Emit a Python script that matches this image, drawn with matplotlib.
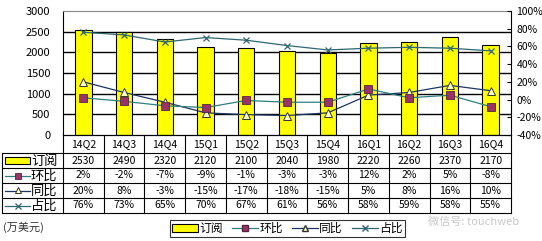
import matplotlib
matplotlib.use("Agg")
import matplotlib.pyplot as plt
import matplotlib.transforms as mtrans
from matplotlib.lines import Line2D
from matplotlib.patches import Rectangle
from matplotlib.ticker import FuncFormatter

plt.rcParams['font.family'] = ['Noto Sans CJK SC', 'DejaVu Sans']

# data
quarters = ['14Q2', '14Q3', '14Q4', '15Q1', '15Q2', '15Q3', '15Q4',
            '16Q1', '16Q2', '16Q3', '16Q4']
subs = [2530, 2490, 2320, 2120, 2100, 2040, 1980, 2220, 2260, 2370, 2170]   # 订阅
qoq = [2, -2, -7, -9, -1, -3, -3, 12, 2, 5, -8]                            # 环比 %
yoy = [20, 8, -3, -15, -17, -18, -15, 5, 8, 16, 10]                        # 同比 %
share = [76, 73, 65, 70, 67, 61, 56, 58, 59, 58, 55]                       # 占比 %

bar_col = '#FFFF00'
qoq_col = '#2F7F7F'
yoy_col = '#1F3560'
share_col = '#2F6670'
sq_col = '#993366'

W, H = 542, 241
fig = plt.figure(figsize=(W / 100, H / 100), dpi=100)

# plot area in pixels
L, R, T, B = 63, 511, 11, 135
ax = fig.add_axes([L / W, 1 - B / H, (R - L) / W, (B - T) / H])
x = list(range(len(quarters)))

ax.bar(x, subs, width=0.4, color=bar_col, edgecolor='black', linewidth=0.8, zorder=2)
ax.set_xlim(-0.5, len(quarters) - 0.5)
ax.set_ylim(0, 3000)
ax.set_yticks(range(0, 3001, 500))
for v in range(500, 3000, 500):
    ax.axhline(v, color='black', lw=1.0, zorder=1)
ax.tick_params(axis='y', length=0, labelsize=8, pad=9)
ax.set_xticks([])
ax.spines['top'].set_color('#888888')
ax.spines['right'].set_visible(False)

ax2 = ax.twinx()
ax2.set_ylim(-40, 100)
ax2.set_yticks(range(-40, 101, 20))
ax2.yaxis.set_major_formatter(FuncFormatter(lambda v, p: '%d%%' % v))
ax2.tick_params(axis='y', direction='in', length=3, labelsize=7.5, pad=4)
ax2.spines['top'].set_visible(False)
ax2.spines['left'].set_visible(False)

ax2.plot(x, share, color=share_col, lw=0.9, marker='x', ms=4, mew=0.9,
         mec=share_col, zorder=3)
ax2.plot(x, yoy, color=yoy_col, lw=0.9, marker='^', ms=5.5, mfc='#FFFFCC',
         mec='#333333', mew=0.7, zorder=3)
ax2.plot(x, qoq, color=qoq_col, lw=0.9, marker='s', ms=6, mfc=sq_col,
         mec='#552244', mew=0.6, zorder=4)

# data table below the plot
ov = fig.add_axes([0, 0, 1, 1], facecolor='none')
ov.set_xlim(0, W)
ov.set_ylim(H, 0)
ov.axis('off')
bt = mtrans.blended_transform_factory(ax.transData, ov.transData)

rows = [153, 168, 183, 198, 213]
for y in rows:
    ov.plot([2, R], [y, y], color='black', lw=0.8)
ov.plot([2, 2], [rows[0], rows[-1]], color='black', lw=0.8)
for i in range(len(quarters) + 1):
    ov.plot([i - 0.5, i - 0.5], [B, rows[-1]], color='black', lw=0.8, transform=bt)

for i, q in enumerate(quarters):
    ov.text(i, 144, q, ha='center', va='center', fontsize=7.5, transform=bt)
    vals = [str(subs[i]), '%d%%' % qoq[i], '%d%%' % yoy[i], '%d%%' % share[i]]
    for k, s in enumerate(vals):
        ov.text(i, (rows[k] + rows[k + 1]) / 2, s, ha='center', va='center',
                fontsize=7.5, transform=bt)

labels = ['订阅', '环比', '同比', '占比']
for k, lab in enumerate(labels):
    yc = (rows[k] + rows[k + 1]) / 2
    ov.text(31, yc + 0.5, lab, ha='left', va='center', fontsize=9.5)
ov.add_patch(Rectangle((5, 157), 25, 7, facecolor=bar_col, edgecolor='black', lw=0.8))
ov.plot([5, 30], [176, 176], color=qoq_col, lw=0.9)
ov.plot([17.5], [176], marker='s', ms=5, mfc=sq_col, mec='#552244', mew=0.6)
ov.plot([5, 30], [191, 191], color=yoy_col, lw=0.9)
ov.plot([17.5], [190], marker='^', ms=5, mfc='#FFFFCC', mec='#333333', mew=0.7)
ov.plot([5, 30], [206, 206], color=share_col, lw=0.9)
ov.plot([17.5], [206], marker='x', ms=4, mec=share_col, mew=0.9)

ov.text(3, 227, '(万美元)', ha='left', va='center', fontsize=8, color='#333333')
ov.text(428, 222, '微信号: touchweb', ha='left', va='center', fontsize=8,
        color='#BBBBBB', alpha=0.8)

handles = [
    Rectangle((0, 0), 1, 1, facecolor=bar_col, edgecolor='black', lw=0.8),
    Line2D([], [], color=qoq_col, lw=0.9, marker='s', ms=5, mfc=sq_col, mec='#552244'),
    Line2D([], [], color=yoy_col, lw=0.9, marker='^', ms=5, mfc='#FFFFCC', mec='#333333'),
    Line2D([], [], color=share_col, lw=0.9, marker='x', ms=4, mec=share_col),
]
leg = fig.legend(handles, labels, loc='center', ncol=4,
                 bbox_to_anchor=(287.5 / W, 1 - 228.5 / H), fontsize=8.5,
                 frameon=True, fancybox=False, edgecolor='black',
                 handlelength=2.2, handleheight=0.6, handletextpad=0.1,
                 columnspacing=0.8, borderpad=0.15, borderaxespad=0)
leg.get_frame().set_linewidth(0.8)

fig.savefig('out.png', dpi=100)
